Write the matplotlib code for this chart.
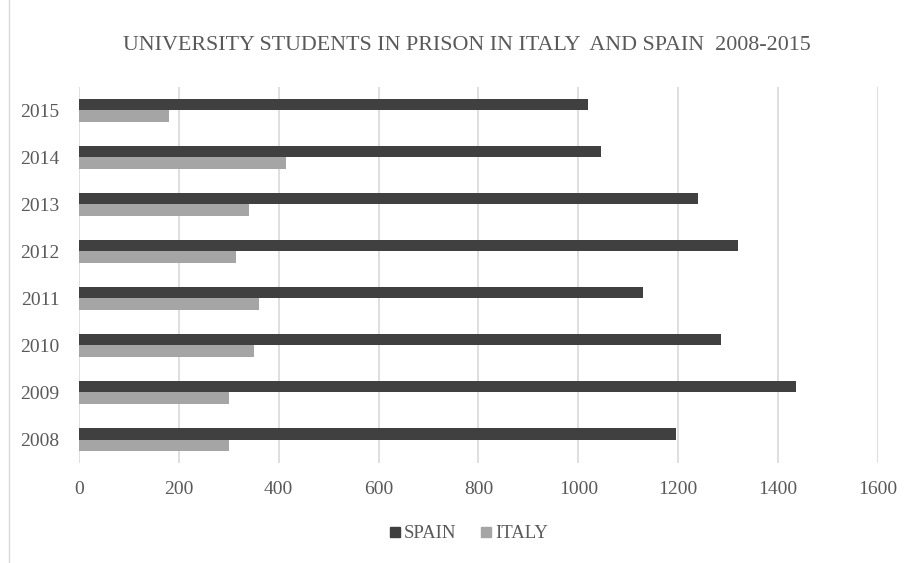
import numpy as np
import matplotlib
matplotlib.use("Agg")
import matplotlib.pyplot as plt
from matplotlib.lines import Line2D

plt.rcParams['font.family'] = ['Liberation Serif', 'DejaVu Serif']

years = ['2008', '2009', '2010', '2011', '2012', '2013', '2014', '2015']
spain = [1195, 1435, 1285, 1130, 1320, 1240, 1045, 1020]
italy = [300, 300, 350, 360, 315, 340, 415, 180]

text_col = '#595959'
spain_col = '#404040'
italy_col = '#a5a5a5'

fig = plt.figure(figsize=(9.12, 5.63), dpi=100)
ax = fig.add_axes([0.0866, 0.1776, 0.876, 0.668])

y = np.arange(len(years))
h = 0.24
ax.barh(y + h / 2, spain, height=h, color=spain_col, label='SPAIN', zorder=3)
ax.barh(y - h / 2, italy, height=h, color=italy_col, label='ITALY', zorder=3)

ax.set_xlim(0, 1600)
ax.set_ylim(-0.5, len(years) - 0.5)
ax.set_xticks(range(0, 1601, 200))
ax.set_yticks(y)
ax.set_yticklabels(years)
ax.xaxis.grid(True, color='#d9d9d9', linewidth=1.2, zorder=0)
for s in ax.spines.values():
    s.set_visible(False)
ax.tick_params(axis='both', length=0, labelsize=14, labelcolor=text_col)
ax.tick_params(axis='x', pad=13)
ax.tick_params(axis='y', pad=14)

fig.text(0.512, 0.92, 'UNIVERSITY STUDENTS IN PRISON IN ITALY  AND SPAIN  2008-2015',
         ha='center', va='center', fontsize=15.8, color=text_col)

handles = [Line2D([], [], marker='s', linestyle='none', markersize=7, color=spain_col),
           Line2D([], [], marker='s', linestyle='none', markersize=7, color=italy_col)]
fig.legend(handles, ['SPAIN', 'ITALY'], loc='center', bbox_to_anchor=(0.513, 0.052),
           ncol=2, frameon=False, fontsize=13.5, labelcolor=text_col,
           handletextpad=0.1, columnspacing=1.2, handlelength=0.8)

# thin chart-area border on the left
fig.add_artist(Line2D([9 / 912, 9 / 912], [0, 1], transform=fig.transFigure,
                      color='#d9d9d9', linewidth=1))

fig.savefig('out.png', dpi=100)
